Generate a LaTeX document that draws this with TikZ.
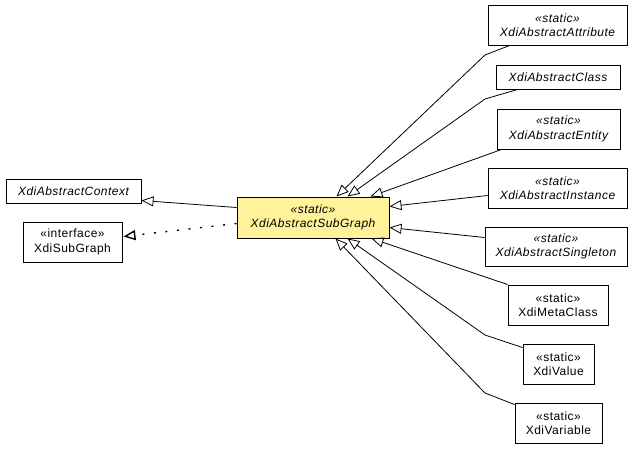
\documentclass[tikz,border=0pt]{standalone}
\usepackage{fontspec}
\setmainfont{Liberation Sans}[LetterSpace=4]
\usetikzlibrary{arrows.meta,calc}
\definecolor{umlyellow}{RGB}{255,242,155}
\tikzset{
  umlbox/.style={draw=black, line width=1pt, fill=white, inner sep=0pt, align=center,
    font=\fontsize{12}{14.5}\selectfont},
  absbox/.style={umlbox, font=\fontsize{12}{14.5}\selectfont\itshape},
  inh/.style={-{Triangle[open,length=12pt,width=10pt]}, line width=0.8pt, draw=black},
  real/.style={inh, dash pattern=on 2pt off 9.6pt, line width=1.4pt},
}
\begin{document}
\begin{tikzpicture}[x=1pt,y=-1pt]
\useasboundingbox (0,0) rectangle (637,448);
% nodes
\node[absbox, minimum width=135pt, minimum height=24pt] (ctx) at (73.5,191) {XdiAbstractContext};
\node[umlbox, minimum width=99pt, minimum height=40pt] (sub) at (72.5,242) {«interface»\\XdiSubGraph};
\node[absbox, fill=umlyellow, minimum width=152pt, minimum height=41pt] (main) at (313,217.5) {«static»\\XdiAbstractSubGraph};
\node[absbox, minimum width=139pt, minimum height=40pt] (attr) at (557.5,25) {«static»\\XdiAbstractAttribute};
\node[absbox, minimum width=124pt, minimum height=24pt] (cls) at (558,77) {XdiAbstractClass};
\node[absbox, minimum width=123pt, minimum height=40pt] (ent) at (558.5,129) {«static»\\XdiAbstractEntity};
\node[absbox, minimum width=139pt, minimum height=40pt] (inst) at (557.5,188) {«static»\\XdiAbstractInstance};
\node[absbox, minimum width=142pt, minimum height=39pt] (sing) at (556,246.5) {«static»\\XdiAbstractSingleton};
\node[umlbox, minimum width=100pt, minimum height=40pt] (meta) at (558,305) {«static»\\XdiMetaClass};
\node[umlbox, minimum width=71pt, minimum height=40pt] (val) at (558.5,364) {«static»\\XdiValue};
\node[umlbox, minimum width=87pt, minimum height=40pt] (var) at (558.5,423) {«static»\\XdiVariable};
% bends
\coordinate (battr) at (485,55);
\coordinate (bcls) at (485,99);
\coordinate (bval) at (485,335);
\coordinate (bvar) at (485,393);
% connectors
\draw[inh] ($(main.north west)+(0,11)$) -- ($(ctx.south east)+(0,-3)$);
\draw[real] ($(main.north west)+(0,27)$) -- ($(sub.north east)+(1,15)$);
\draw[inh] ($(attr.south west)+(22,0)$) -- (battr) -- ($(main.north west)+(100,0)$);
\draw[inh] ($(cls.south west)+(22,0)$) -- (bcls) -- ($(main.north west)+(111,0)$);
\draw[inh] ($(ent.south west)+(5,0)$) -- ($(main.north west)+(134,0)$);
\draw[inh] ($(inst.north west)+(0,28)$) -- ($(main.north east)+(0,10)$);
\draw[inh] ($(sing.north west)+(0,11)$) -- ($(main.north east)+(0,31)$);
\draw[inh] (meta.north west) -- ($(main.south west)+(135,0)$);
\draw[inh] ($(val.north west)+(0,4)$) -- (bval) -- ($(main.south west)+(111,0)$);
\draw[inh] ($(var.north west)+(0,2)$) -- (bvar) -- ($(main.south west)+(99,0)$);
\end{tikzpicture}
\end{document}
